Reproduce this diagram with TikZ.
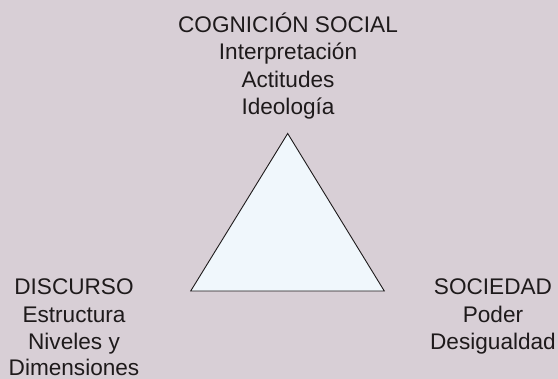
\documentclass[tikz,border=0pt]{standalone}
\usepackage{fontspec}
\setmainfont{Liberation Sans}
\definecolor{bgcol}{RGB}{216,207,214}
\definecolor{tricol}{RGB}{240,247,252}
\definecolor{txtcol}{RGB}{30,26,27}
\begin{document}
\begin{tikzpicture}[x=1pt,y=-1pt,
  lbl/.style={anchor=base, inner sep=0pt, font=\fontsize{22.6}{27}\selectfont, text=txtcol},
  tri/.style={draw=txtcol, fill=tricol, line width=0.9pt, line join=miter}]
\path[use as bounding box, fill=bgcol] (0,0) rectangle (558,379);
% triangle
\coordinate (apex) at (287.7,133.5);
\coordinate (bl) at (190.7,291);
\coordinate (br) at (384.3,291);
\draw[tri] (apex) -- (bl) -- (br) -- cycle;
% top block
\node[lbl] (cog) at (288,32.7) {COGNICIÓN SOCIAL};
\node[lbl] (interp) at (288,60) {Interpretación};
\node[lbl] (actit) at (288,87.3) {Actitudes};
\node[lbl] (ideo) at (288,114.5) {Ideología};
% left block
\node[lbl] (disc) at (74,295) {DISCURSO};
\node[lbl] (estr) at (74,322.5) {Estructura};
\node[lbl] (nivel) at (74,349.5) {Niveles y};
\node[lbl] (dimen) at (74,375.5) {Dimensiones};
% right block
\node[lbl] (soc) at (493,295) {SOCIEDAD};
\node[lbl] (poder) at (493,322.5) {Poder};
\node[lbl] (desig) at (493,349.5) {Desigualdad};
\end{tikzpicture}
\end{document}
